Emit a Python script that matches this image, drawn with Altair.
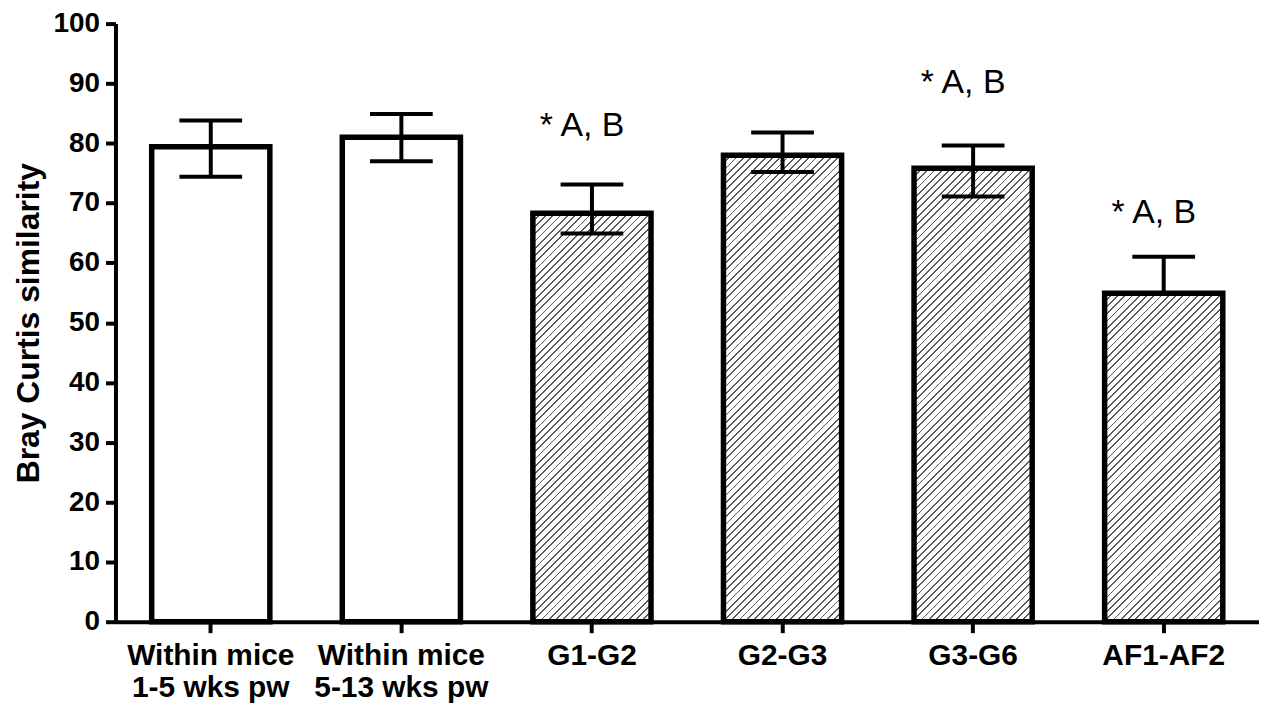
import altair as alt
import pandas as pd

# ---- data ----
categories = ["Within mice|1-5 wks pw", "Within mice|5-13 wks pw",
              "G1-G2", "G2-G3", "G3-G6", "AF1-AF2"]
means = [79.4, 81.0, 68.3, 78.0, 75.8, 54.9]
err_high = [83.8, 84.9, 73.1, 81.8, 79.6, 61.0]
err_low = [74.4, 77.0, 64.9, 75.2, 71.1, None]
hatched = [False, False, True, True, True, True]

ann_categories = ["G1-G2", "G3-G6", "AF1-AF2"]
ann_heights = [82.9, 90.1, 68.3]
ann_text = ["* A, B", "* A, B", "* A, B"]

df = pd.DataFrame({"cat": categories, "val": means, "hi": err_high,
                   "lo": err_low, "hatch": hatched})
df["stem_lo"] = df["lo"].fillna(df["val"])
ann = pd.DataFrame({"cat": ann_categories, "y": ann_heights, "text": ann_text})

# ---- layout / style ----
W, H = 1149, 601
P_IN = 0.38
FONT = "Liberation Sans"
STEP = W / 6.0
BW = STEP * (1 - P_IN)


def hatch_gradient(value, period=7.3, line=1.8, dark="#5a5a5a"):
    h = value * H / 100.0
    w = BW
    r = h / w
    L = w * (1 + r * r)
    stops = [{"offset": 0, "color": "white"}]
    k = 0
    maxs = w + h
    while k * period < maxs:
        a = k * period / L
        b = (k * period + line) / L
        stops += [{"offset": a, "color": "white"}, {"offset": a, "color": dark},
                  {"offset": b, "color": dark}, {"offset": b, "color": "white"}]
        k += 1
    stops.append({"offset": 1, "color": "white"})
    return {"gradient": "linear", "x1": 0, "y1": 0, "x2": 1, "y2": r,
            "stops": stops}


x_enc = alt.X("cat:N", sort=categories,
              scale=alt.Scale(paddingInner=P_IN, paddingOuter=P_IN / 2),
              axis=alt.Axis(title=None, labelAngle=0,
                            labelExpr="split(datum.label, '|')",
                            labelFont=FONT, labelFontSize=30,
                            labelFontWeight="bold", labelColor="black",
                            labelLineHeight=32, labelPadding=8,
                            tickSize=11, tickWidth=4, tickColor="black",
                            domainWidth=4, domainColor="black"))

y_scale = alt.Scale(domain=[0, 100], nice=False)
y_axis = alt.Axis(title="Bray Curtis similarity", values=list(range(0, 101, 10)),
                  grid=False, labelFont=FONT, labelFontSize=28,
                  labelFontWeight="bold", labelColor="black", labelPadding=6,
                  tickSize=10, tickWidth=4, tickColor="black",
                  domainWidth=4, domainColor="black",
                  titleFont=FONT, titleFontSize=32, titleFontWeight="bold",
                  titleColor="black", titlePadding=8)

base = alt.Chart(df)
layers = []

white_bars = base.transform_filter("!datum.hatch").mark_bar(
    fill="white", stroke="black", strokeWidth=5.5, opacity=1
).encode(x=x_enc, y=alt.Y("val:Q", scale=y_scale, axis=y_axis))
layers.append(white_bars)

for c, v, hflag in zip(categories, means, hatched):
    if not hflag:
        continue
    layers.append(
        base.transform_filter(alt.datum.cat == c).mark_bar(
            fill=hatch_gradient(v), stroke="black", strokeWidth=5.5, opacity=1
        ).encode(x=x_enc, y=alt.Y("val:Q", scale=y_scale, axis=y_axis))
    )

stems = base.mark_rule(color="black", strokeWidth=4, opacity=1).encode(
    x=x_enc, y=alt.Y("stem_lo:Q", scale=y_scale), y2="hi:Q")
caps_hi = base.mark_tick(color="black", size=63, thickness=4, opacity=1).encode(
    x=x_enc, y=alt.Y("hi:Q", scale=y_scale))
caps_lo = base.transform_filter("isValid(datum.lo)").mark_tick(
    color="black", size=63, thickness=4, opacity=1).encode(
    x=x_enc, y=alt.Y("lo:Q", scale=y_scale))
labels = alt.Chart(ann).mark_text(font=FONT, fontSize=34, color="black",
                                  dx=-10, baseline="middle").encode(
    x=alt.X("cat:N", sort=categories), y=alt.Y("y:Q", scale=y_scale),
    text="text:N")

layers += [stems, caps_hi, caps_lo, labels]

chart = alt.layer(*layers).properties(
    width=W, height=H, autosize="none",
    padding={"left": 108, "top": 14, "right": 0, "bottom": 80},
    background="white"
).configure_view(strokeWidth=0)

chart.save("out.html", embed_options={"renderer": "svg", "actions": False})
